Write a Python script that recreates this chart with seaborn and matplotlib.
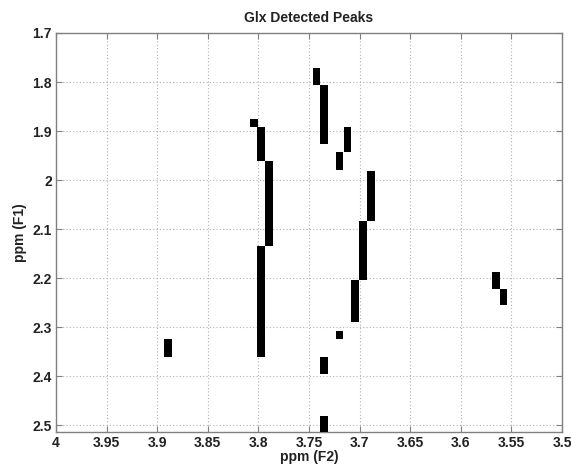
import matplotlib
matplotlib.use("Agg")
import matplotlib.pyplot as plt
import seaborn as sns
import numpy as np

# Detected peak segments: F2 position (ppm), F1 start and end (ppm)
f2_ppm = [3.7427, 3.7352, 3.8046, 3.7971, 3.7892, 3.7120, 3.7199, 3.6890,
          3.6967, 3.7043, 3.7971, 3.7199, 3.7352, 3.7352, 3.8893, 3.5653, 3.5578]
f1_start = [1.771, 1.8055, 1.8755, 1.8924, 1.961, 1.8924, 1.9435, 1.981,
            2.083, 2.204, 2.135, 2.308, 2.3606, 2.4816, 2.325, 2.1878, 2.2218]
f1_end = [1.8055, 1.9271, 1.8924, 1.9606, 2.1353, 1.9435, 1.9796, 2.083,
          2.204, 2.290, 2.3606, 2.325, 2.3953, 2.520, 2.3606, 2.2218, 2.2557]

x_ticks = [4.0, 3.95, 3.9, 3.85, 3.8, 3.75, 3.7, 3.65, 3.6, 3.55, 3.5]
y_ticks = [1.7, 1.8, 1.9, 2.0, 2.1, 2.2, 2.3, 2.4, 2.5]

sns.set_style("white")
plt.rcParams['font.family'] = ['Liberation Sans', 'DejaVu Sans']

fig = plt.figure(figsize=(5.71, 4.66), dpi=100)
ax = fig.add_axes([0.0981, 0.073, 0.8862, 0.8562])

heights = np.array(f1_end) - np.array(f1_start)
ax.bar(f2_ppm, heights, bottom=f1_start, width=0.0077, color="black",
       edgecolor="none", zorder=3)

ax.set_xlim(4.0, 3.5)
ax.set_ylim(2.514, 1.7)
ax.set_xticks(x_ticks)
ax.set_xticklabels([f"{v:g}" for v in x_ticks])
ax.set_yticks(y_ticks)
ax.set_yticklabels([f"{v:g}" for v in y_ticks])

ax.grid(True, linestyle=(0, (1, 2)), color="#b0b0b0", linewidth=0.8)
ax.set_axisbelow(True)
for s in ax.spines.values():
    s.set_color("#808080")
    s.set_linewidth(1.0)
    s.set_visible(True)
ax.tick_params(direction="in", length=4, width=0.8, color="#808080",
               top=True, right=True, bottom=True, left=True,
               labelsize=10, pad=3)
for lab in ax.get_xticklabels() + ax.get_yticklabels():
    lab.set_fontweight("bold")
    lab.set_color("#222222")

ax.set_title("Glx Detected Peaks", fontsize=10, fontweight="bold", pad=8, color="#222222")
ax.set_xlabel("ppm (F2)", fontsize=10, fontweight="bold", labelpad=0, color="#222222")
ax.set_ylabel("ppm (F1)", fontsize=10, fontweight="bold", labelpad=4, color="#222222")

fig.savefig("out.png", dpi=100)
